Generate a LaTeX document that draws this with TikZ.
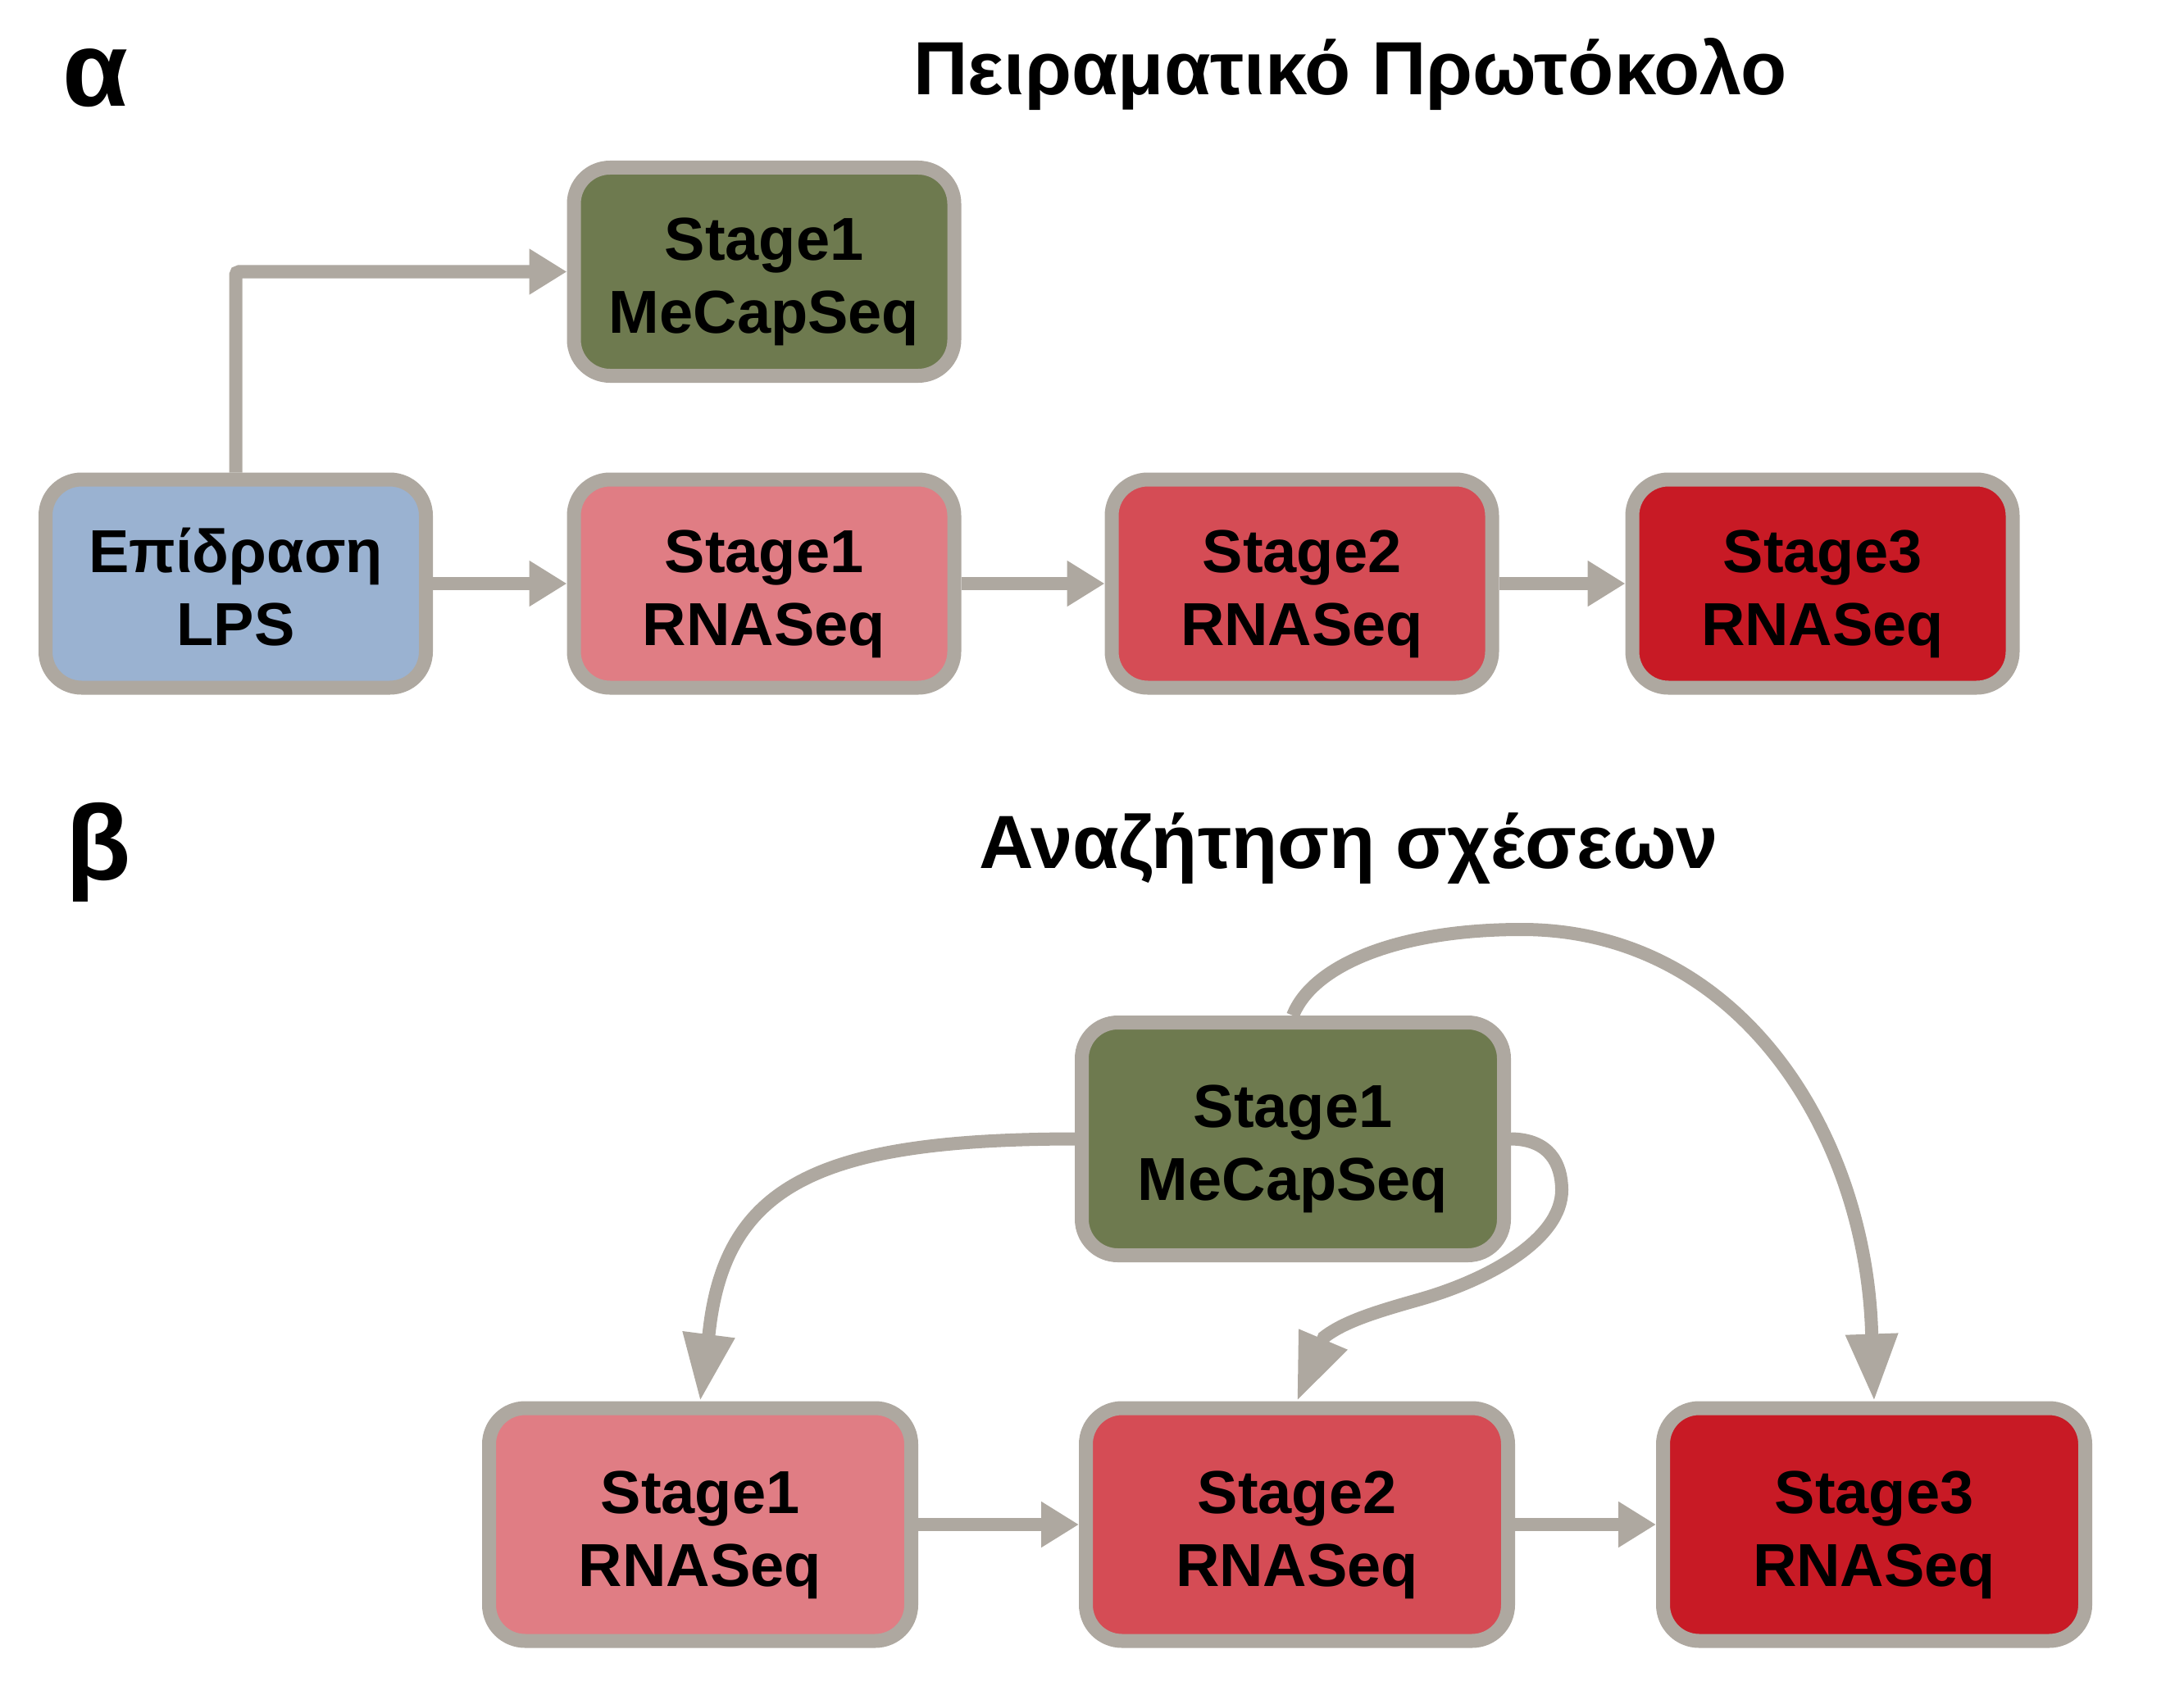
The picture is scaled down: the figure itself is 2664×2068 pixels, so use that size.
\documentclass[tikz,border=0pt]{standalone}
\usepackage{fontspec}
\setmainfont{Liberation Sans}
\usetikzlibrary{arrows.meta,calc}
\definecolor{bord}{RGB}{174,168,160}
\definecolor{olive}{RGB}{110,122,79}
\definecolor{lpsblue}{RGB}{154,178,209}
\definecolor{pinkA}{RGB}{224,125,132}
\definecolor{redB}{RGB}{213,76,85}
\definecolor{redC}{RGB}{200,26,37}
\newcommand{\twol}[2]{\raisebox{-75pt}[0pt][0pt]{\vbox{\hbox to 0pt{\hss#1\hss}\hbox to 0pt{\hss#2\hss}}}}
\tikzset{
  boxA/.style={draw=bord, line width=17pt, rounded corners=44pt, minimum width=464pt, minimum height=254pt, inner sep=0pt, font=\fontsize{74}{89}\selectfont\bfseries},
  boxB/.style={boxA, minimum width=515pt, minimum height=284pt},
  conn/.style={draw=bord, line width=16pt},
  htip/.style={-{Triangle[length=46pt,width=53pt]}},
  ctip/.style={-{Triangle[length=82pt,width=60pt]}},
  title/.style={anchor=base, font=\fontsize{92}{104}\selectfont\bfseries},
  panel/.style={anchor=base west, inner sep=0pt, font=\fontsize{130}{150}\selectfont\bfseries}
}
\begin{document}
\begin{tikzpicture}[x=1pt, y=-1pt]
\useasboundingbox (0,0) rectangle (2664,2068);
% panel labels and titles
\node[panel] (la) at (76,130) {α};
\node[panel] (lb) at (80,1073) {β};
\node[title] (ta) at (1647,116) {Πειραματικό Πρωτόκολο};
\node[title] (tb) at (1645,1059) {Αναζήτηση σχέσεων};
% panel alpha
\node[boxA, fill=lpsblue] (lps) at (287.5,712) {\twol{Επίδραση}{LPS}};
\node[boxA, fill=olive] (mca) at (932,331.5) {\twol{Stage1}{MeCapSeq}};
\node[boxA, fill=pinkA] (s1a) at (932,712) {\twol{Stage1}{RNASeq}};
\node[boxA, fill=redB] (s2a) at (1588,712) {\twol{Stage2}{RNASeq}};
\node[boxA, fill=redC] (s3a) at (2223,712) {\twol{Stage3}{RNASeq}};
\draw[conn, htip] (lps.east) -- (s1a.west);
\draw[conn, htip] (s1a.east) -- (s2a.west);
\draw[conn, htip] (s2a.east) -- (s3a.west);
\draw[conn, htip, rounded corners=4pt] (lps.north) |- (mca.west);
% panel beta
\node[boxB, fill=olive] (mcb) at (1577,1389.5) {\twol{Stage1}{MeCapSeq}};
\node[boxB, fill=pinkA] (s1b) at (854,1860) {\twol{Stage1}{RNASeq}};
\node[boxB, fill=redB] (s2b) at (1582,1860) {\twol{Stage2}{RNASeq}};
\node[boxB, fill=redC] (s3b) at (2286,1860) {\twol{Stage3}{RNASeq}};
\draw[conn, htip] (s1b.east) -- (s2b.west);
\draw[conn, htip] (s2b.east) -- (s3b.west);
\draw[conn, ctip] (mcb.west) .. controls (1000,1390) and (885,1445) .. ($(s1b.north)+(11,-85)$) -- (s1b.north);
\draw[conn, ctip] (mcb.east) .. controls (1890,1390) and (1905,1420) .. (1905,1452)
  .. controls (1905,1510) and (1820,1560) .. (1733,1585)
  .. controls (1680,1600) and (1640,1612) .. ($(s2b.north)+(33,-78)$) -- (s2b.north);
\draw[conn, ctip] (mcb.north) .. controls (1600,1180) and (1700,1134) .. (1856,1134)
  .. controls (2120,1134) and (2275,1380) .. ($(s3b.north)+(-3,-85)$) -- (s3b.north);
\end{tikzpicture}
\end{document}
